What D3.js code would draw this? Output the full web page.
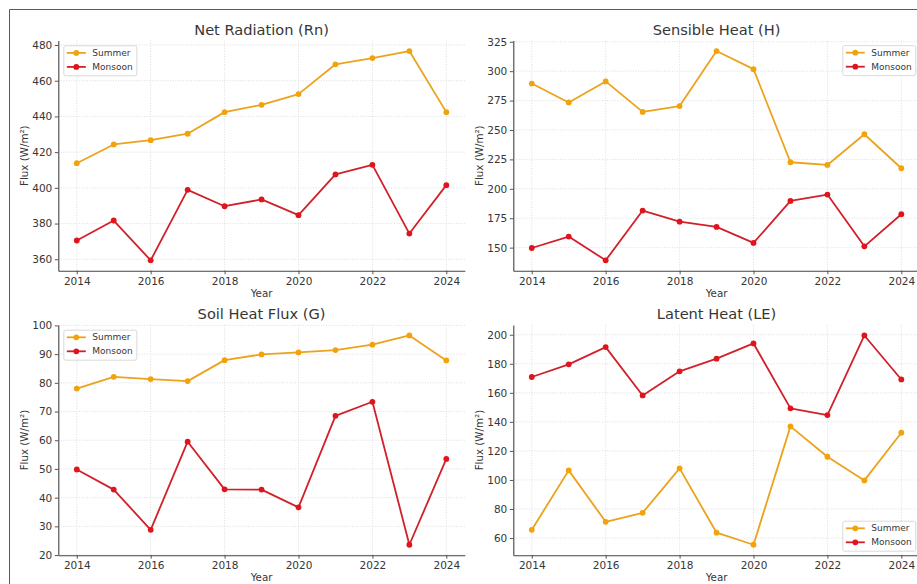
<!DOCTYPE html>
<html>
<head>
<meta charset="utf-8">
<script src="https://cdn.jsdelivr.net/npm/d3@7"></script>
<style>
  html, body { margin: 0; padding: 0; background: #fff; }
  svg { display: block; font-family: "DejaVu Sans", sans-serif; }
</style>
</head>
<body>
<svg id="chart" width="917" height="584"></svg>
<script>
// Years on the x axis and the labelled x ticks
const years = [2014, 2015, 2016, 2017, 2018, 2019, 2020, 2021, 2022, 2023, 2024];
const yearTicks = [2014, 2016, 2018, 2020, 2022, 2024];

// Net radiation (Rn), W/m²
const rnSummer  = [413.8, 424.3, 426.7, 430.3, 442.4, 446.5, 452.5, 469.2, 472.7, 476.6, 442.4];
const rnMonsoon = [370.5, 381.7, 359.4, 398.9, 389.7, 393.5, 384.7, 407.5, 412.9, 374.4, 401.5];
const rnTicks   = [360, 380, 400, 420, 440, 460, 480];

// Sensible heat (H), W/m²
const hSummer  = [289.5, 273.4, 291.3, 265.4, 270.3, 317.1, 301.7, 222.6, 220.3, 246.4, 217.5];
const hMonsoon = [149.7, 159.4, 139.2, 181.5, 172.1, 167.6, 154.0, 189.7, 195.1, 151.1, 178.4];
const hTicks   = [150, 175, 200, 225, 250, 275, 300, 325];

// Soil heat flux (G), W/m²
const gSummer  = [78.0, 82.1, 81.3, 80.6, 87.9, 89.9, 90.6, 91.4, 93.3, 96.5, 87.8];
const gMonsoon = [49.8, 42.8, 28.8, 59.5, 42.9, 42.8, 36.6, 68.5, 73.4, 23.6, 53.5];
const gTicks   = [20, 30, 40, 50, 60, 70, 80, 90, 100];

// Latent heat (LE), W/m²
const leSummer  = [65.7, 106.6, 71.2, 77.4, 108.0, 63.7, 55.4, 136.9, 116.0, 99.7, 132.5];
const leMonsoon = [170.9, 179.6, 191.5, 158.2, 174.8, 183.5, 194.0, 149.3, 144.7, 199.5, 169.2];
const leTicks   = [60, 80, 100, 120, 140, 160, 180, 200];

const seriesNames = ["Summer", "Monsoon"];
const colors = { Summer: { line: "#eba31c", dot: "#f2a30c" }, Monsoon: { line: "#d2202a", dot: "#e0141c" } };
const textColor = "#363636";

const svg = d3.select("#chart");

// Outer figure frame
svg.append("path")
  .attr("d", "M9.5,584 V9.5 H917")
  .attr("fill", "none").attr("stroke", "#5a5a5a").attr("stroke-width", 1);

// Domain with a 5% margin on each side of the data range
function padded(values) {
  const [lo, hi] = d3.extent(values);
  const m = (hi - lo) * 0.05;
  return [lo - m, hi + m];
}

function panel(opts) {
  const { x0, y0, w, h, title, summer, monsoon, ticks, legendPos } = opts;
  const g = svg.append("g").attr("transform", `translate(${x0},${y0})`);

  const x = d3.scaleLinear().domain(padded(years)).range([0, w]);
  const y = d3.scaleLinear().domain(padded(summer.concat(monsoon))).range([h, 0]);

  // dotted grid
  const grid = g.append("g").attr("stroke", "#d6d6d6").attr("stroke-width", 0.8)
    .attr("stroke-dasharray", "1,1.6");
  grid.selectAll("line.v").data(yearTicks).join("line").attr("class", "v")
    .attr("x1", d => x(d)).attr("x2", d => x(d)).attr("y1", 0).attr("y2", h);
  grid.selectAll("line.h").data(ticks).join("line").attr("class", "h")
    .attr("x1", 0).attr("x2", w).attr("y1", d => y(d)).attr("y2", d => y(d));

  // axes
  const xAxis = g.append("g").attr("transform", `translate(0,${h})`)
    .call(d3.axisBottom(x).tickValues(yearTicks).tickFormat(d3.format("d")).tickSize(3.5).tickSizeOuter(0).tickPadding(3));
  const yAxis = g.append("g")
    .call(d3.axisLeft(y).tickValues(ticks).tickFormat(d3.format("d")).tickSize(3.5).tickSizeOuter(0).tickPadding(2.5));
  [xAxis, yAxis].forEach(a => {
    a.select(".domain").attr("stroke", "#444").attr("stroke-width", 1.1);
    a.selectAll(".tick line").attr("stroke", "#444").attr("stroke-width", 0.9);
    a.selectAll(".tick text").attr("fill", textColor)
      .style("font-family", "DejaVu Sans").style("font-size", "10.5px");
  });

  // title and axis labels
  g.append("text").attr("x", w / 2).attr("y", -6).attr("text-anchor", "middle")
    .attr("fill", textColor).style("font-size", "14.6px").text(title);
  g.append("text").attr("x", w / 2).attr("y", h + 26).attr("text-anchor", "middle")
    .attr("fill", textColor).style("font-size", "10.3px").text("Year");
  g.append("text").attr("transform", `translate(-30,${h / 2}) rotate(-90)`)
    .attr("text-anchor", "middle").attr("fill", textColor).style("font-size", "10.3px")
    .text("Flux (W/m²)");

  // series
  const line = d3.line().x((d, i) => x(years[i])).y(d => y(d));
  [["Summer", summer], ["Monsoon", monsoon]].forEach(([name, vals]) => {
    g.append("path").datum(vals).attr("d", line).attr("fill", "none")
      .attr("stroke", colors[name].line).attr("stroke-width", 1.8).attr("stroke-linejoin", "round");
    g.append("g").selectAll("circle").data(vals).join("circle")
      .attr("cx", (d, i) => x(years[i])).attr("cy", d => y(d)).attr("r", 2.9)
      .attr("fill", colors[name].dot);
  });

  // legend
  const lw = 73, lh = 30;
  let lx, ly;
  if (legendPos === "upper left") { lx = 5; ly = 4.7; }
  else if (legendPos === "upper right") { lx = w - 4.5 - lw; ly = 4.5; }
  else { lx = w - 4.5 - lw; ly = h - 4.5 - lh; }
  const lg = g.append("g").attr("transform", `translate(${lx},${ly})`);
  lg.append("rect").attr("x", 0.5).attr("y", 0.5).attr("width", lw).attr("height", lh)
    .attr("rx", 2).attr("fill", "#fff").attr("fill-opacity", 0.85)
    .attr("stroke", "#d0d0d0").attr("stroke-width", 0.8);
  seriesNames.forEach((name, i) => {
    const cy = 7.6 + i * 14;
    lg.append("line").attr("x1", 3.5).attr("x2", 22.5).attr("y1", cy).attr("y2", cy)
      .attr("stroke", colors[name].line).attr("stroke-width", 1.8);
    lg.append("circle").attr("cx", 13).attr("cy", cy).attr("r", 2.9).attr("fill", colors[name].dot);
    lg.append("text").attr("x", 29).attr("y", cy + 3.2).attr("fill", textColor)
      .style("font-size", "9px").text(name);
  });
}

const colX = [58.3, 513.3], colW = 406.5;
const rowY = [40.6, 325], rowH = 230.2;

panel({ x0: colX[0], y0: rowY[0], w: colW, h: rowH, title: "Net Radiation (Rn)",
        summer: rnSummer, monsoon: rnMonsoon, ticks: rnTicks, legendPos: "upper left" });
panel({ x0: colX[1], y0: rowY[0], w: colW, h: rowH, title: "Sensible Heat (H)",
        summer: hSummer, monsoon: hMonsoon, ticks: hTicks, legendPos: "upper right" });
panel({ x0: colX[0], y0: rowY[1], w: colW, h: rowH, title: "Soil Heat Flux (G)",
        summer: gSummer, monsoon: gMonsoon, ticks: gTicks, legendPos: "upper left" });
panel({ x0: colX[1], y0: rowY[1], w: colW, h: rowH, title: "Latent Heat (LE)",
        summer: leSummer, monsoon: leMonsoon, ticks: leTicks, legendPos: "lower right" });
</script>
</body>
</html>
